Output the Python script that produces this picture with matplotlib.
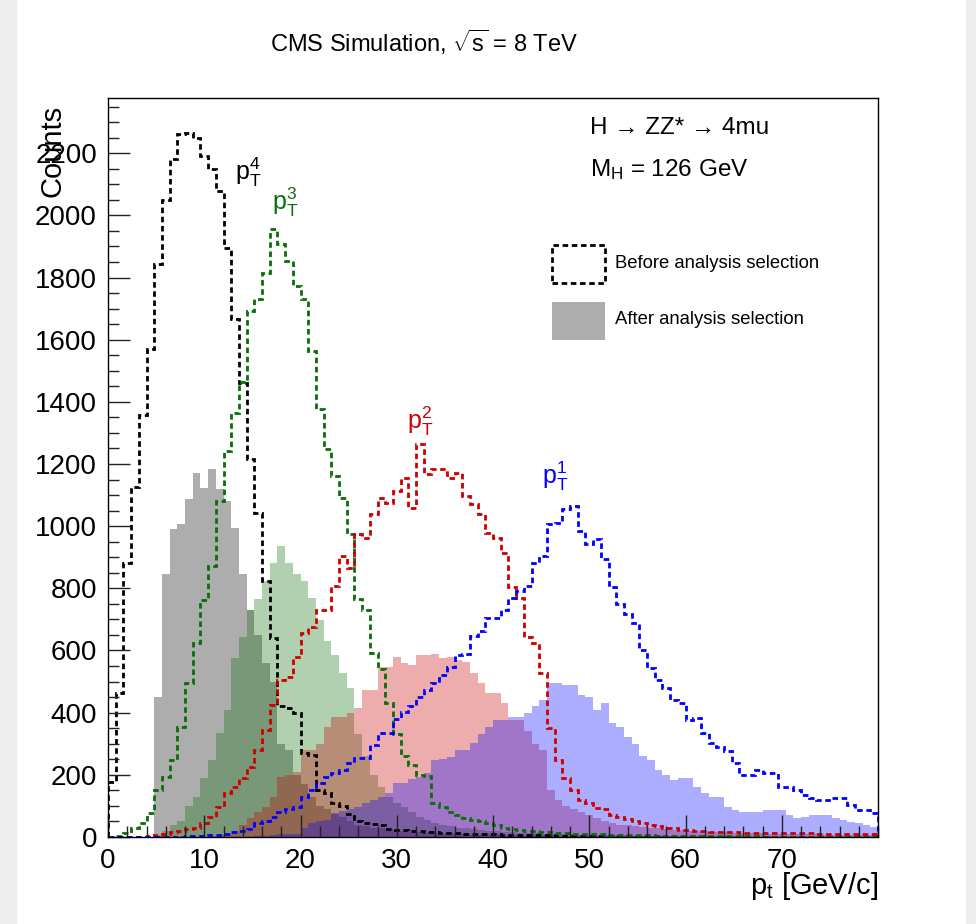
import numpy as np
import matplotlib
matplotlib.use("Agg")
import matplotlib.pyplot as plt
from matplotlib.patches import Rectangle
from matplotlib.ticker import MultipleLocator

plt.rcParams['font.family'] = ['Liberation Sans', 'DejaVu Sans']
plt.rcParams['mathtext.fontset'] = 'custom'
plt.rcParams['mathtext.rm'] = 'Liberation Sans'
plt.rcParams['mathtext.it'] = 'Liberation Sans'
plt.rcParams['mathtext.default'] = 'regular'

# histogram binning: 100 bins of 0.8 GeV from 0 to 80
X_LO, X_HI, N_BINS = 0.0, 80.0, 100

# before analysis selection (dashed outlines)
pt1_before = [0, 0, 0, 0, 0, 0, 0, 0, 0, 1,
              2, 3, 4, 5, 7, 10, 15, 20, 25, 45,
              50, 64, 80, 90, 96, 128, 150, 173, 193, 205,
              215, 237, 253, 253, 295, 334, 334, 380, 401, 420,
              450, 472, 494, 520, 546, 584, 590, 648, 664, 706,
              706, 729, 770, 793, 809, 883, 905, 1008, 1011, 1056,
              1066, 986, 944, 960, 896, 803, 751, 719, 690, 600,
              545, 504, 478, 440, 430, 376, 382, 334, 302, 289,
              275, 237, 199, 199, 215, 205, 205, 160, 160, 150,
              135, 125, 119, 119, 125, 125, 103, 87, 87, 77]
pt2_before = [0, 0, 0, 0, 0, 2, 5, 10, 15, 20,
              25, 30, 45, 64, 96, 140, 160, 190, 225, 280,
              343, 424, 504, 514, 578, 655, 674, 729, 729, 809,
              905, 864, 976, 963, 1040, 1092, 1075, 1114, 1156, 1059,
              1265, 1168, 1185, 1185, 1156, 1172, 1098, 1072, 1040, 979,
              963, 915, 803, 770, 642, 623, 526, 350, 247, 190,
              150, 120, 110, 93, 90, 70, 65, 58, 50, 45,
              38, 35, 30, 28, 22, 22, 20, 18, 16, 16,
              15, 15, 14, 14, 13, 13, 13, 12, 12, 12,
              12, 12, 11, 11, 11, 11, 10, 10, 10, 10]
pt3_before = [0, 2, 12, 30, 45, 77, 150, 193, 247, 353,
              494, 623, 761, 873, 1082, 1242, 1364, 1465, 1692, 1730,
              1814, 1955, 1907, 1852, 1772, 1730, 1563, 1377, 1249, 1162,
              1091, 976, 767, 729, 591, 540, 430, 330, 260, 230,
              200, 195, 110, 95, 80, 70, 60, 55, 50, 45,
              40, 30, 25, 22, 20, 18, 16, 15, 13, 12,
              11, 10, 9, 8, 8, 7, 6, 6, 5, 5,
              5, 4, 4, 4, 3, 3, 3, 3, 2, 2,
              2, 2, 2, 2, 2, 1, 1, 1, 1, 1,
              1, 1, 1, 1, 1, 1, 1, 1, 1, 1]
pt4_before = [177, 462, 883, 1127, 1358, 1570, 1843, 2051, 2180, 2262,
              2265, 2250, 2190, 2150, 2077, 1894, 1666, 1460, 1217, 1043,
              825, 639, 420, 415, 400, 270, 265, 150, 140, 110,
              100, 75, 50, 45, 42, 40, 25, 22, 22, 20,
              18, 16, 15, 14, 12, 12, 10, 10, 9, 8,
              8, 7, 7, 6, 6, 5, 5, 5, 4, 4,
              4, 3, 3, 3, 3, 2, 2, 2, 2, 2,
              2, 2, 1, 1, 1, 1, 1, 1, 1, 1,
              1, 1, 1, 1, 1, 0, 0, 0, 0, 0,
              0, 0, 0, 0, 0, 0, 0, 0, 0, 0]

# after analysis selection (dotted fills)
pt1_after = [0, 0, 0, 0, 0, 0, 0, 0, 0, 0,
             0, 0, 0, 0, 0, 0, 0, 0, 0, 2,
             4, 6, 8, 10, 10, 30, 45, 50, 55, 77,
             85, 90, 96, 110, 119, 130, 141, 173, 173, 185,
             193, 205, 247, 250, 257, 280, 280, 302, 330, 353,
             376, 376, 385, 385, 400, 420, 440, 494, 497, 490,
             488, 456, 450, 408, 430, 366, 353, 321, 300, 260,
             247, 215, 199, 183, 189, 189, 160, 141, 128, 128,
             96, 87, 80, 80, 80, 87, 87, 87, 70, 61,
             65, 70, 70, 70, 60, 55, 48, 45, 40, 32]
pt2_after = [0, 0, 0, 0, 0, 0, 0, 0, 0, 0,
             0, 0, 0, 2, 5, 10, 20, 40, 60, 80,
             96, 130, 193, 200, 210, 280, 280, 300, 353, 385,
             385, 400, 414, 472, 472, 546, 546, 578, 560, 552,
             584, 584, 590, 575, 578, 568, 562, 526, 494, 462,
             462, 430, 376, 376, 340, 300, 280, 150, 120, 100,
             90, 80, 70, 60, 50, 45, 40, 38, 35, 32,
             30, 28, 26, 24, 22, 20, 19, 18, 17, 16,
             15, 14, 13, 12, 12, 11, 10, 10, 9, 9,
             8, 8, 8, 7, 7, 7, 6, 6, 6, 6]
pt3_after = [0, 0, 0, 0, 0, 0, 5, 20, 40, 50,
             100, 128, 190, 247, 334, 408, 575, 642, 729, 767,
             825, 883, 937, 883, 847, 825, 770, 697, 632, 584,
             526, 480, 330, 260, 200, 160, 130, 110, 95, 80,
             65, 55, 45, 40, 35, 30, 28, 25, 22, 20,
             18, 16, 15, 14, 13, 12, 11, 10, 9, 8,
             8, 7, 7, 6, 6, 5, 5, 5, 4, 4,
             4, 3, 3, 3, 3, 2, 2, 2, 2, 2,
             2, 2, 1, 1, 1, 1, 1, 1, 1, 1,
             1, 1, 1, 1, 1, 1, 1, 1, 1, 1]
pt4_after = [0, 0, 0, 0, 0, 0, 450, 847, 992, 1008,
             1088, 1172, 1124, 1185, 1120, 1082, 995, 847, 729, 650,
             560, 500, 300, 280, 200, 170, 130, 100, 90, 75,
             64, 50, 40, 35, 30, 28, 25, 22, 20, 18,
             16, 15, 14, 13, 12, 11, 10, 9, 9, 8,
             8, 7, 7, 6, 6, 5, 5, 5, 4, 4,
             4, 4, 3, 3, 3, 3, 2, 2, 2, 2,
             2, 2, 2, 1, 1, 1, 1, 1, 1, 1,
             1, 1, 1, 1, 1, 0, 0, 0, 0, 0,
             0, 0, 0, 0, 0, 0, 0, 0, 0, 0]

x_ticks = [0, 10, 20, 30, 40, 50, 60, 70]
y_ticks = [0, 200, 400, 600, 800, 1000, 1200, 1400, 1600, 1800, 2000, 2200]

edges = np.linspace(X_LO, X_HI, N_BINS + 1)

c_black = '#000000'
c_green = '#0a6e0a'
c_red = '#cc0000'
c_blue = '#0000ff'
FILL_ALPHA = 0.32

fig = plt.figure(figsize=(9.76, 9.24), dpi=100)
# screenshot border
fig.patches.append(Rectangle((0, 0), 16 / 976, 1, transform=fig.transFigure,
                             color='#eeeeee', zorder=-5))
fig.patches.append(Rectangle((966 / 976, 0), 10 / 976, 1, transform=fig.transFigure,
                             color='#eeeeee', zorder=-5))

ax = fig.add_axes([0.1107, 0.0942, 0.7889, 0.7998])

after = [(pt4_after, c_black), (pt3_after, c_green), (pt2_after, c_red), (pt1_after, c_blue)]
for vals, col in after:
    ax.stairs(vals, edges, fill=True, facecolor=col, alpha=FILL_ALPHA, linewidth=0)

before = [(pt4_before, c_black), (pt3_before, c_green), (pt2_before, c_red), (pt1_before, c_blue)]
for vals, col in before:
    ax.stairs(vals, edges, color=col, linewidth=2.0, linestyle=(0, (2.0, 1.3)))

ax.set_xlim(X_LO, X_HI)
ax.set_ylim(0, 2378)
ax.set_xticks(x_ticks)
ax.set_yticks(y_ticks)
ax.xaxis.set_minor_locator(MultipleLocator(2))
ax.yaxis.set_minor_locator(MultipleLocator(50))
ax.tick_params(which='both', direction='in', top=False, right=False, width=1, colors='#222222')
ax.tick_params(which='major', length=16, labelsize=20, pad=8, labelcolor='black')
ax.tick_params(which='minor', length=8)
for sp in ax.spines.values():
    sp.set_linewidth(1.0)

fig.text(53 / 976, 1 - 151 / 924, 'Counts', rotation=90, ha='center', va='center', fontsize=21)
ax.text(1.0, -0.077, r'p$_{t}$ [GeV/c]', transform=ax.transAxes, ha='right',
        va='baseline', fontsize=21)
fig.text(0.434, 0.9545, r'CMS Simulation, $\sqrt{s}$ = 8 TeV', ha='center', va='center',
         fontsize=17)

ax.text(0.626, 0.959, 'H \u2192 ZZ* \u2192 4mu', transform=ax.transAxes,
        ha='left', va='center', fontsize=17.5)
ax.text(0.626, 0.9026, r'M$_{H}$ = 126 GeV', transform=ax.transAxes,
        ha='left', va='center', fontsize=17.5)

# legend drawn by hand
ax.add_patch(Rectangle((0.5766, 0.7497), 0.0688, 0.0514, transform=ax.transAxes,
                       fill=False, edgecolor='black', linewidth=2.0, linestyle=(0, (2.0, 1.3))))
ax.add_patch(Rectangle((0.5766, 0.6725), 0.0688, 0.0514, transform=ax.transAxes,
                       facecolor='black', alpha=FILL_ALPHA, linewidth=0))
ax.text(0.6584, 0.7754, 'Before analysis selection', transform=ax.transAxes,
        ha='left', va='center', fontsize=13.3)
ax.text(0.6584, 0.6996, 'After analysis selection', transform=ax.transAxes,
        ha='left', va='center', fontsize=13.3)

# curve labels
ax.text(13.2, 2115, r'p$_{T}^{4}$', color=c_black, fontsize=18, ha='left', va='baseline')
ax.text(17.0, 2019, r'p$_{T}^{3}$', color=c_green, fontsize=18, ha='left', va='baseline')
ax.text(31.1, 1313, r'p$_{T}^{2}$', color=c_red, fontsize=18, ha='left', va='baseline')
ax.text(45.1, 1136, r'p$_{T}^{1}$', color=c_blue, fontsize=18, ha='left', va='baseline')

fig.savefig('out.png', dpi=100)
